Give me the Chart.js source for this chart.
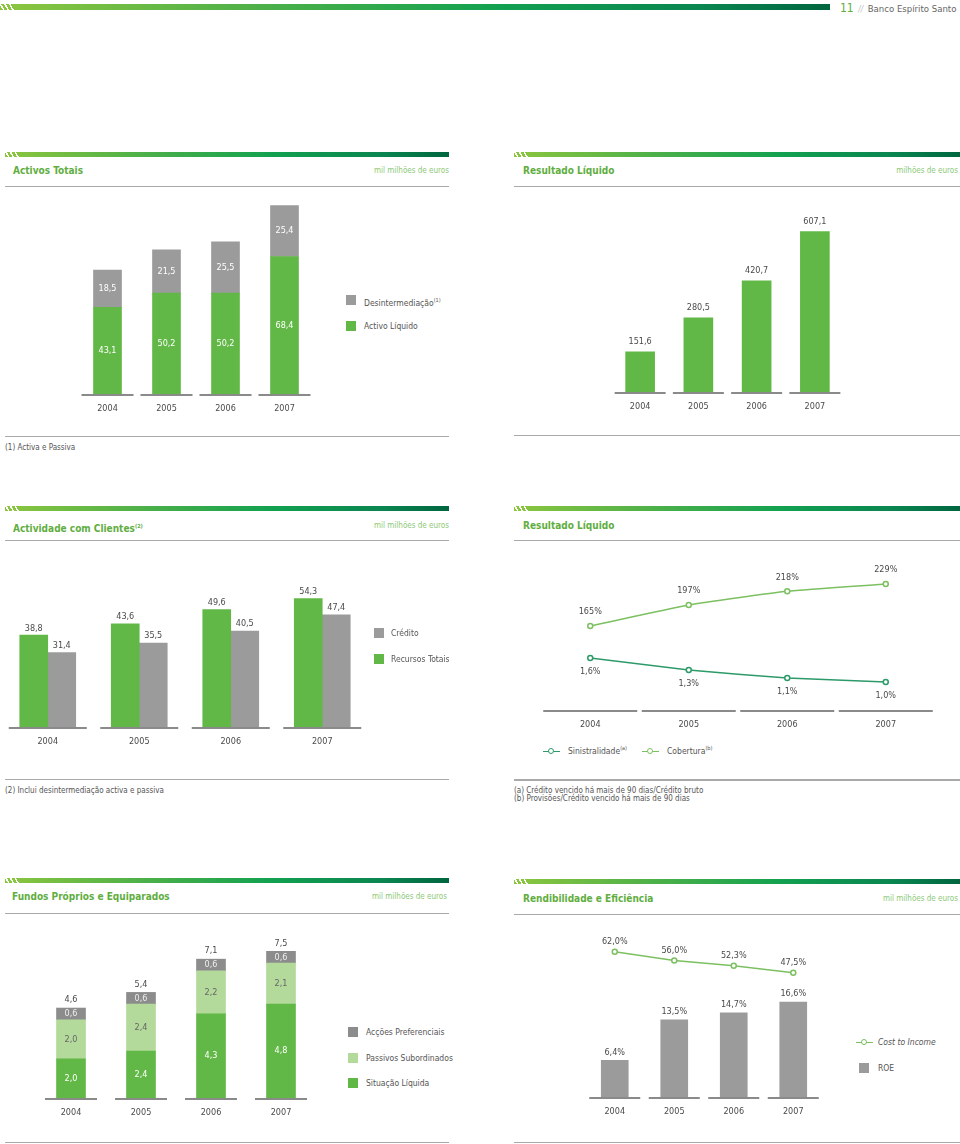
<!DOCTYPE html>
<html>
<head>
<meta charset="utf-8">
<script src="https://cdn.jsdelivr.net/npm/chart.js@4.4.0/dist/chart.umd.min.js"></script>
<style>
body{margin:0;width:960px;height:1144px;position:relative;background:#fff;overflow:hidden;
  font-family:"Liberation Sans Narrow","DejaVu Sans Condensed",sans-serif;color:#555}
.hb{position:absolute;height:5px;background:linear-gradient(90deg,#8cc63f,#4fb148 30%,#12a150 60%,#0a8550 85%,#00663f)}
.hb:before{content:"";position:absolute;left:0;top:0;width:14px;height:100%;
  background:repeating-linear-gradient(60deg,transparent 0 2.5px,#fff 2.5px 4px)}
.title{position:absolute;font-weight:bold;font-size:10px;line-height:14px;color:#5fae3f;white-space:nowrap}
.unit{position:absolute;font-size:8px;line-height:12px;color:#8dc877;white-space:nowrap;text-align:right}
.rule{position:absolute;height:1px;background:#a9a9a9}
.note{position:absolute;font-size:8px;line-height:8px;color:#555;white-space:nowrap}
.leg{position:absolute;font-size:8.5px;line-height:12px;color:#555;white-space:nowrap}
.sw{position:absolute;width:10px;height:10px}
.li{display:inline-block;width:17px;height:1.5px;background:var(--c);position:relative;vertical-align:middle;margin-right:8px}
.li:after{content:"";position:absolute;left:5px;top:-3px;width:4px;height:4px;border:1.5px solid var(--c);border-radius:50%;background:#fff}
.sp{font-size:5.5px;vertical-align:4px}
canvas{position:absolute}
</style>
</head>
<body>

<div class="hb" style="left:0;top:4px;width:830px;height:6px"></div>
<div style="position:absolute;left:840px;top:0;line-height:14px;white-space:nowrap">
  <span style="color:#5fae3f;font-size:12px">11</span>
  <span style="color:#bbb;font-size:8px;font-style:italic">//</span>
  <span style="color:#666;font-size:9.5px">Banco Espírito Santo</span>
</div>

<!-- Activos Totais -->
<div class="hb" style="left:5px;top:152px;width:444px"></div>
<div class="title" style="left:13px;top:164px">Activos Totais</div>
<div class="unit" style="right:511px;top:165px">mil milhões de euros</div>
<div class="rule" style="left:5px;top:186px;width:444px"></div>
<canvas id="c1"></canvas>
<div class="sw" style="left:346px;top:295px;background:#9b9b9b"></div>
<div class="leg" style="left:364px;top:294px">Desintermediação<span class="sp">(1)</span></div>
<div class="sw" style="left:346px;top:321px;background:#62b846"></div>
<div class="leg" style="left:364px;top:320px">Activo Líquido</div>
<div class="rule" style="left:5px;top:436px;width:444px"></div>
<div class="note" style="left:5px;top:444px">(1) Activa e Passiva</div>

<!-- Resultado Líquido -->
<div class="hb" style="left:514px;top:152px;width:446px"></div>
<div class="title" style="left:523px;top:164px">Resultado Líquido</div>
<div class="unit" style="right:2px;top:165px">milhões de euros</div>
<div class="rule" style="left:514px;top:186px;width:446px"></div>
<canvas id="c2"></canvas>
<div class="rule" style="left:514px;top:435px;width:446px"></div>

<!-- Actividade com Clientes -->
<div class="hb" style="left:5px;top:506px;width:444px"></div>
<div class="title" style="left:13px;top:519px">Actividade com Clientes<span class="sp">(2)</span></div>
<div class="unit" style="right:511px;top:520px">mil milhões de euros</div>
<div class="rule" style="left:5px;top:540px;width:444px"></div>
<canvas id="c3"></canvas>
<div class="sw" style="left:374px;top:628px;background:#9b9b9b"></div>
<div class="leg" style="left:391px;top:627px">Crédito</div>
<div class="sw" style="left:374px;top:654px;background:#62b846"></div>
<div class="leg" style="left:391px;top:653px">Recursos Totais</div>
<div class="rule" style="left:5px;top:779px;width:444px"></div>
<div class="note" style="left:5px;top:787px">(2) Inclui desintermediação activa e passiva</div>

<!-- Resultado Líquido (qualidade do crédito) -->
<div class="hb" style="left:514px;top:506px;width:446px"></div>
<div class="title" style="left:523px;top:519px">Resultado Líquido</div>
<div class="rule" style="left:514px;top:540px;width:446px"></div>
<canvas id="c4"></canvas>
<div class="leg" style="left:543px;top:742px"><span class="li" style="--c:#2d9a6a"></span>Sinistralidade<span class="sp">(a)</span></div>
<div class="leg" style="left:642px;top:742px"><span class="li" style="--c:#7cc061"></span>Cobertura<span class="sp">(b)</span></div>
<div class="rule" style="left:514px;top:779px;width:446px;height:1.5px"></div>
<div class="note" style="left:514px;top:787px">(a) Crédito vencido há mais de 90 dias/Crédito bruto</div>
<div class="note" style="left:514px;top:795px">(b) Provisões/Crédito vencido há mais de 90 dias</div>

<!-- Fundos Próprios e Equiparados -->
<div class="hb" style="left:5px;top:878px;width:444px"></div>
<div class="title" style="left:12px;top:890px">Fundos Próprios e Equiparados</div>
<div class="unit" style="right:513px;top:891px">mil milhões de euros</div>
<div class="rule" style="left:5px;top:913px;width:444px"></div>
<canvas id="c5"></canvas>
<div class="sw" style="left:348px;top:1027px;background:#8c8c8c"></div>
<div class="leg" style="left:366px;top:1026px">Acções Preferenciais</div>
<div class="sw" style="left:348px;top:1053px;background:#b3d99b"></div>
<div class="leg" style="left:366px;top:1052px">Passivos Subordinados</div>
<div class="sw" style="left:348px;top:1078px;background:#62b846"></div>
<div class="leg" style="left:366px;top:1077px">Situação Líquida</div>
<div class="rule" style="left:5px;top:1142px;width:444px"></div>

<!-- Rendibilidade e Eficiência -->
<div class="hb" style="left:514px;top:879px;width:446px"></div>
<div class="title" style="left:523px;top:892px">Rendibilidade e Eficiência</div>
<div class="unit" style="right:2px;top:893px">mil milhões de euros</div>
<div class="rule" style="left:514px;top:914px;width:446px"></div>
<canvas id="c6"></canvas>
<div class="leg" style="left:856px;top:1036px"><span class="li" style="--c:#7cc061;margin-right:5px"></span><i>Cost to Income</i></div>
<div class="sw" style="left:859px;top:1063px;background:#9b9b9b"></div>
<div class="leg" style="left:878px;top:1062px">ROE</div>
<div class="rule" style="left:514px;top:1142px;width:446px"></div>

<script>
const years = ['2004', '2005', '2006', '2007'];

// Activos Totais (mil milhões de euros)
const activoLiquido = [43.1, 50.2, 50.2, 68.4];
const desintermediacao = [18.5, 21.5, 25.5, 25.4];

// Resultado Líquido (milhões de euros)
const resultadoLiquido = [151.6, 280.5, 420.7, 607.1];

// Actividade com Clientes (mil milhões de euros)
const recursosTotais = [38.8, 43.6, 49.6, 54.3];
const credito = [31.4, 35.5, 40.5, 47.4];

// Sinistralidade / Cobertura (%)
const sinistralidade = [1.6, 1.3, 1.1, 1.0];
const cobertura = [165, 197, 218, 229];

// Fundos Próprios e Equiparados (mil milhões de euros)
const situacaoLiquida = [2.0, 2.4, 4.3, 4.8];
const passivosSubordinados = [2.0, 2.4, 2.2, 2.1];
const accoesPreferenciais = [0.6, 0.6, 0.6, 0.6];

// Rendibilidade e Eficiência (%)
const roe = [6.4, 13.5, 14.7, 16.6];
const costToIncome = [62.0, 56.0, 52.3, 47.5];

const GREEN = '#62b846', GRAY = '#9b9b9b', LIGHT = '#b3d99b', DARKGRAY = '#8c8c8c';
const TEAL = '#2d9a6a', LINEGREEN = '#7cc061', TXT = '#4a4a4a';
const FONT = '"Liberation Sans Narrow", "DejaVu Sans Condensed", sans-serif';
const AX = 24;

Chart.defaults.font.family = FONT;
Chart.defaults.font.size = 9;
Chart.defaults.color = TXT;

const num = v => v.toFixed(1).replace('.', ',');
const pct1 = v => num(v) + '%';
const pct0 = v => v + '%';

// value labels drawn from each element's position
const valueLabels = {
  id: 'valueLabels',
  afterDatasetsDraw(chart) {
    const ctx = chart.ctx;
    ctx.save();
    ctx.textAlign = 'center';
    ctx.textBaseline = 'middle';
    ctx.font = '9px ' + FONT;
    chart.data.datasets.forEach((ds, i) => {
      const lab = ds.lab;
      if (!lab) return;
      chart.getDatasetMeta(i).data.forEach((el, j) => {
        let y;
        if (lab.pos == 'in') y = (el.y + el.base) / 2;
        else if (lab.pos == 'below') y = el.y + lab.off;
        else y = el.y - lab.off;
        ctx.fillStyle = lab.color;
        ctx.fillText(lab.fmt(ds.data[j]), el.x, y);
      });
    });
    ctx.restore();
  }
};

// sum of a stack written above it
const stackTotals = {
  id: 'stackTotals',
  afterDatasetsDraw(chart, args, opts) {
    if (!opts.on) return;
    const ctx = chart.ctx;
    const last = chart.getDatasetMeta(chart.data.datasets.length - 1);
    ctx.save();
    ctx.textAlign = 'center';
    ctx.textBaseline = 'middle';
    ctx.font = '9px ' + FONT;
    ctx.fillStyle = TXT;
    last.data.forEach((el, j) => {
      const tot = chart.data.datasets.reduce((s, ds) => s + ds.data[j], 0);
      ctx.fillText(num(tot), el.x, el.y - opts.off);
    });
    ctx.restore();
  }
};

// short baseline piece under every category
const axisSegments = {
  id: 'axisSegments',
  afterDatasetsDraw(chart, args, opts) {
    if (!opts.half) return;
    const {ctx, chartArea, scales} = chart;
    ctx.save();
    ctx.strokeStyle = '#8a8a8a';
    ctx.lineWidth = 2;
    chart.data.labels.forEach((l, i) => {
      const x = scales.x.getPixelForValue(i);
      ctx.beginPath();
      ctx.moveTo(x - opts.half, chartArea.bottom + 1);
      ctx.lineTo(x + opts.half, chartArea.bottom + 1);
      ctx.stroke();
    });
    ctx.restore();
  }
};

function xAxis(extra) {
  return Object.assign({
    grid: {display: false, drawTicks: false},
    border: {display: false},
    ticks: {color: TXT, font: {size: 9}, padding: 9},
    afterFit(s) { s.height = AX; }
  }, extra || {});
}

function hidden(extra) {
  return Object.assign({display: false}, extra);
}

function makeChart(id, area, type, datasets, scales, pl) {
  const [L, T, R, B] = area;
  const bx = Math.max(0, L - 20), by = T - 30, br = Math.min(960, R + 20), bb = B + AX + 4;
  const cv = document.getElementById(id);
  cv.width = br - bx;
  cv.height = bb - by;
  cv.style.left = bx + 'px';
  cv.style.top = by + 'px';
  return new Chart(cv, {
    type: type,
    data: {labels: years, datasets: datasets},
    options: {
      responsive: false,
      animation: false,
      layout: {padding: {left: L - bx, top: T - by, right: br - R, bottom: bb - B - AX}},
      scales: scales,
      plugins: Object.assign({legend: {display: false}, tooltip: {enabled: false}}, pl)
    },
    plugins: [axisSegments, stackTotals, valueLabels]
  });
}

// Activos Totais
makeChart('c1', [77.5, 192.5, 313.5, 394], 'bar', [
  {label: 'Activo Líquido', data: activoLiquido, backgroundColor: GREEN, barThickness: 28,
   lab: {pos: 'in', color: '#fff', fmt: num}},
  {label: 'Desintermediação', data: desintermediacao, backgroundColor: GRAY, barThickness: 28,
   lab: {pos: 'in', color: '#fff', fmt: num}}
], {
  x: xAxis({stacked: true}),
  y: hidden({stacked: true, min: 0, max: 100})
}, {axisSegments: {half: 26}});

// Resultado Líquido
makeChart('c2', [610.8, 207.4, 844, 393], 'bar', [
  {label: 'Resultado Líquido', data: resultadoLiquido, backgroundColor: GREEN, barThickness: 29,
   lab: {pos: 'above', off: 10, color: TXT, fmt: num}}
], {
  x: xAxis(),
  y: hidden({min: 0, max: 700})
}, {axisSegments: {half: 25.5}});

// Actividade com Clientes
makeChart('c3', [2, 584.8, 368, 727], 'bar', [
  {label: 'Recursos Totais', data: recursosTotais, backgroundColor: GREEN, barThickness: 28,
   lab: {pos: 'above', off: 7, color: TXT, fmt: num}},
  {label: 'Crédito', data: credito, backgroundColor: GRAY, barThickness: 28,
   lab: {pos: 'above', off: 7, color: TXT, fmt: num}}
], {
  x: xAxis(),
  y: hidden({min: 0, max: 60})
}, {axisSegments: {half: 39}});

// Sinistralidade / Cobertura
makeChart('c4', [540.7, 546, 935.3, 710], 'line', [
  {label: 'Sinistralidade', data: sinistralidade, yAxisID: 'y2', borderColor: TEAL, borderWidth: 1.5,
   pointRadius: 2.5, pointBorderWidth: 1.5, pointBackgroundColor: '#fff', pointBorderColor: TEAL,
   tension: 0.15, lab: {pos: 'below', off: 14, color: TXT, fmt: pct1}},
  {label: 'Cobertura', data: cobertura, yAxisID: 'y1', borderColor: LINEGREEN, borderWidth: 1.5,
   pointRadius: 2.5, pointBorderWidth: 1.5, pointBackgroundColor: '#fff', pointBorderColor: LINEGREEN,
   tension: 0.15, lab: {pos: 'above', off: 14, color: TXT, fmt: pct0}}
], {
  x: xAxis({offset: true}),
  y1: hidden({min: 37, max: 287}),
  y2: hidden({min: 0.3, max: 4.4})
}, {axisSegments: {half: 47}});

// Fundos Próprios e Equiparados
makeChart('c5', [36, 922, 316, 1098], 'bar', [
  {label: 'Situação Líquida', data: situacaoLiquida, backgroundColor: GREEN, barThickness: 29,
   lab: {pos: 'in', color: '#fff', fmt: num}},
  {label: 'Passivos Subordinados', data: passivosSubordinados, backgroundColor: LIGHT, barThickness: 29,
   lab: {pos: 'in', color: '#666', fmt: num}},
  {label: 'Acções Preferenciais', data: accoesPreferenciais, backgroundColor: DARKGRAY, barThickness: 29,
   lab: {pos: 'in', color: '#eee', fmt: num}}
], {
  x: xAxis({stacked: true}),
  y: hidden({stacked: true, min: 0, max: 9})
}, {axisSegments: {half: 26}, stackTotals: {on: true, off: 8}});

// Rendibilidade e Eficiência
makeChart('c6', [585.25, 930, 823.25, 1097], 'bar', [
  {type: 'line', label: 'Cost to Income', data: costToIncome, yAxisID: 'y1', order: 0,
   borderColor: LINEGREEN, borderWidth: 1.5, pointRadius: 2.5, pointBorderWidth: 1.5,
   pointBackgroundColor: '#fff', pointBorderColor: LINEGREEN,
   lab: {pos: 'above', off: 10, color: TXT, fmt: pct1}},
  {label: 'ROE', data: roe, backgroundColor: GRAY, barThickness: 27, order: 1,
   lab: {pos: 'above', off: 8, color: TXT, fmt: pct1}}
], {
  x: xAxis(),
  y: hidden({min: 0, max: 29.2}),
  y1: hidden({min: -38, max: 77})
}, {axisSegments: {half: 25.5}});
</script>
</body>
</html>
